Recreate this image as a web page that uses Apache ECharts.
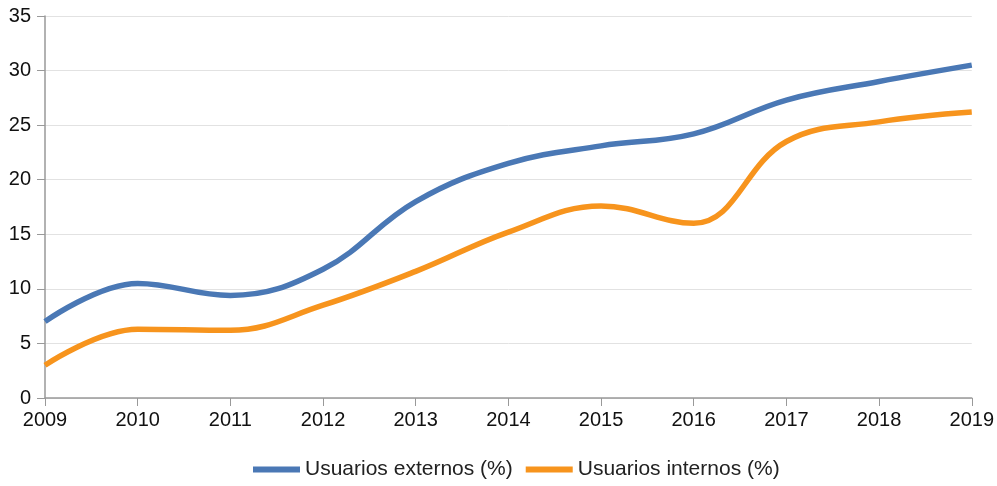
<!DOCTYPE html>
<html lang="es">
<head>
	<meta charset="UTF-8">
	<title>Usuarios externos e internos</title>
	<script type="text/javascript" src="https://cdn.jsdelivr.net/npm/echarts@6/dist/echarts.min.js"></script>
	<style>
		html, body, #content {
			width: 100%;
			height: 100%;
			margin: 0;
			background: #fff;
		}
	</style>
</head>
<body>
	<div id="content"></div>
	<script>
		// datos
		var years = ['2009', '2010', '2011', '2012', '2013', '2014', '2015', '2016', '2017', '2018', '2019'];
		var externos = [7.0, 10.5, 9.4, 11.8, 18.0, 21.5, 23.1, 24.2, 27.3, 29.0, 30.5];
		var internos = [3.0, 6.3, 6.2, 8.5, 11.6, 15.2, 17.6, 16.0, 23.5, 25.3, 26.2];

		var chart = echarts.init(document.getElementById('content'));
		var font = 'Liberation Sans, Arial, sans-serif';

		chart.setOption({
			animation: false,
			grid: { left: 45, right: 23, top: 16, bottom: 88 },
			legend: {
				left: 248,
				top: 454,
				itemWidth: 47,
				itemHeight: 6,
				itemGap: 13,
				icon: 'rect',
				textStyle: { fontFamily: font, fontSize: 21, color: '#222' },
				data: ['Usuarios externos (%)', 'Usuarios internos (%)']
			},
			xAxis: {
				type: 'category',
				data: years,
				boundaryGap: false,
				axisLine: { lineStyle: { color: '#999', width: 1.5 } },
				axisTick: { show: true, length: 8, lineStyle: { color: '#999' } },
				axisLabel: { color: '#111', fontFamily: font, fontSize: 20, margin: 12 }
			},
			yAxis: {
				type: 'value',
				min: 0,
				max: 35,
				interval: 5,
				axisLine: { show: true, lineStyle: { color: '#999', width: 1.5 } },
				axisTick: { show: true, length: 8, lineStyle: { color: '#999' } },
				axisLabel: { color: '#111', fontFamily: font, fontSize: 20, margin: 14 },
				splitLine: { lineStyle: { color: '#e2e2e2', width: 1 } }
			},
			series: [
				{
					name: 'Usuarios externos (%)',
					type: 'line',
					smooth: 0.4,
					showSymbol: false,
					data: externos,
					itemStyle: { color: '#4a78b5' },
					lineStyle: { color: '#4a78b5', width: 5.5 }
				},
				{
					name: 'Usuarios internos (%)',
					type: 'line',
					smooth: 0.4,
					showSymbol: false,
					data: internos,
					itemStyle: { color: '#f7941d' },
					lineStyle: { color: '#f7941d', width: 5.5 }
				}
			]
		});
		window.onresize = chart.resize;
	</script>
</body>
</html>
